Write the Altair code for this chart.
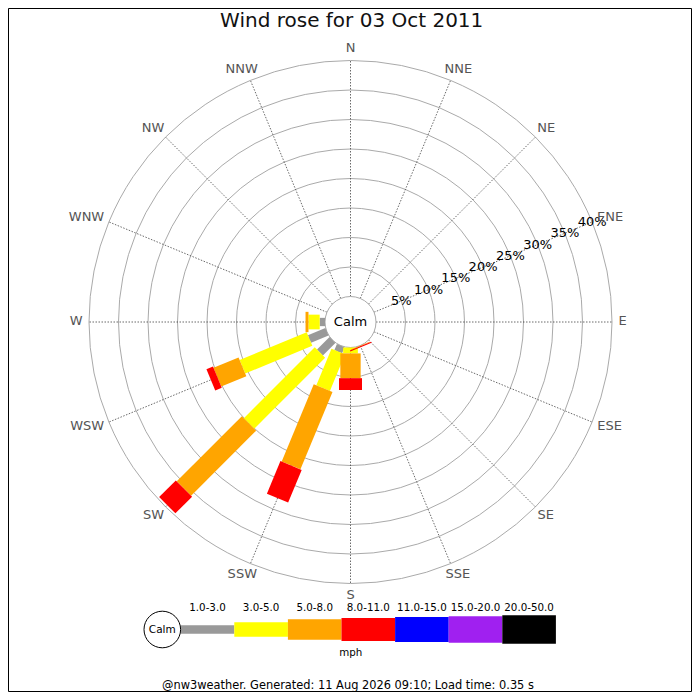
import altair as alt
import pandas as pd

# ---------------- data ----------------
TITLE = "Wind rose for 03 Oct 2011"
FOOTER = "@nw3weather. Generated: 11 Aug 2026 09:10; Load time: 0.35 s"
UNIT = "mph"
CALM_LABEL = "Calm"
DIRECTIONS = ["N", "NNE", "NE", "ENE", "E", "ESE", "SE", "SSE",
              "S", "SSW", "SW", "WSW", "W", "WNW", "NW", "NNW"]
SPEED_BINS = ["1.0-3.0", "3.0-5.0", "5.0-8.0", "8.0-11.0",
              "11.0-15.0", "15.0-20.0", "20.0-50.0"]
#            N  NNE NE ENE E ESE SE SSE   S    SSW   SW    WSW   W    WNW NW NNW
PCT_1_3   = [0, 0, 0, 0, 0, 0, 0, 0.0, 0.0, 1.1, 3.0, 3.2, 0.9, 0, 0, 0]
PCT_3_5   = [0, 0, 0, 0, 0, 0, 0, 0.0, 1.0, 6.7, 17.0, 12.3, 1.9, 0, 0, 0]
PCT_5_8   = [0, 0, 0, 0, 0, 0, 0, 0.1, 4.2, 14.2, 15.6, 4.6, 0.5, 0, 0, 0]
PCT_8_11  = [0, 0, 0, 0, 0, 0, 0, 0.2, 2.0, 6.0, 4.0, 1.2, 0.0, 0, 0, 0]
PCT_11_15 = [0, 0, 0, 0, 0, 0, 0, 0, 0, 0, 0, 0, 0, 0, 0, 0]
PCT_15_20 = [0, 0, 0, 0, 0, 0, 0, 0, 0, 0, 0, 0, 0, 0, 0, 0]
PCT_20_50 = [0, 0, 0, 0, 0, 0, 0, 0, 0, 0, 0, 0, 0, 0, 0, 0]
RING_PCTS = [5, 10, 15, 20, 25, 30, 35, 40]

# ---------------- styles ----------------
BIN_COLORS = ["#999999", "#ffff00", "#ffa500", "#ff0000", "#0000ff", "#a020f0", "#000000"]
BIN_WIDTHS = [8.3, 14.7, 20.3, 23, 25, 26.7, 28.3]
FONT = "DejaVu Sans"
R0 = 25.5      # radius of calm circle (px)
K = 5.9        # px per percent
RMAX = 40
LABEL_R = 268
LEG_X0, LEG_SEG, LEG_Y = -169.8, 53.6, -307.5

W, H = 684, 684
xs = alt.Scale(domain=[-342.5, 341.5], nice=False, zero=False)
ys = alt.Scale(domain=[-370, 314], nice=False, zero=False)

def X(f):
    return alt.X(f, type="quantitative", scale=xs, axis=None)

def Y(f):
    return alt.Y(f, type="quantitative", scale=ys, axis=None)

color_enc = alt.Color("bin:N", scale=alt.Scale(domain=SPEED_BINS, range=BIN_COLORS), legend=None)
width_enc = alt.StrokeWidth("sw:Q", scale=None, legend=None)

# rings
rings_df = pd.DataFrame({"pct": RING_PCTS})
rings = alt.Chart(rings_df).transform_calculate(
    r=f"{R0}+{K}*datum.pct", s="4*datum.r*datum.r", cx="0", cy="0"
).mark_point(shape="circle", filled=False, color="#aaaaaa", strokeWidth=1, opacity=1).encode(
    x=X("cx"), y=Y("cy"), size=alt.Size("s:Q", scale=None)
)

# spokes
dir_df = pd.DataFrame({"d": DIRECTIONS, "i": list(range(len(DIRECTIONS)))})
spokes = alt.Chart(dir_df).transform_calculate(
    a="datum.i*PI/8",
    x1=f"{R0}*sin(datum.a)", y1=f"{R0}*cos(datum.a)",
    x2=f"({R0}+{K}*{RMAX})*sin(datum.a)", y2=f"({R0}+{K}*{RMAX})*cos(datum.a)",
).mark_rule(color="#444444", strokeWidth=0.8, strokeDash=[1.5, 1.5]).encode(
    x=X("x1"), y=Y("y1"), x2="x2:Q", y2="y2:Q"
)

# calm circle
calm_df = pd.DataFrame({"t": [CALM_LABEL]})
calm_circle = alt.Chart(calm_df).transform_calculate(
    cx="0", cy="0", s=f"4*{R0}*{R0}"
).mark_point(shape="circle", filled=True, fill="white", stroke="#aaaaaa",
             strokeWidth=1, opacity=1).encode(
    x=X("cx"), y=Y("cy"), size=alt.Size("s:Q", scale=None)
)
calm_text = alt.Chart(calm_df).transform_calculate(cx="0", cy="0").mark_text(
    font=FONT, fontSize=13, color="black", align="center", baseline="middle"
).encode(x=X("cx"), y=Y("cy"), text="t:N")

# bars
series = [PCT_1_3, PCT_3_5, PCT_5_8, PCT_8_11, PCT_11_15, PCT_15_20, PCT_20_50]
rows = []
for bi, (b, vals) in enumerate(zip(SPEED_BINS, series)):
    for di, d in enumerate(DIRECTIONS):
        rows.append({"dir": d, "di": di, "bin": b, "bi": bi, "pct": vals[di],
                     "sw": BIN_WIDTHS[bi]})
bars_df = pd.DataFrame(rows)
bars = alt.Chart(bars_df).transform_window(
    cum="sum(pct)", groupby=["dir"], sort=[alt.SortField("bi", order="ascending")]
).transform_filter("datum.pct > 0").transform_calculate(
    a="datum.di*PI/8",
    ra=f"{R0}+{K}*(datum.cum-datum.pct)", rb=f"{R0}+{K}*datum.cum",
    x1="datum.ra*sin(datum.a)", y1="datum.ra*cos(datum.a)",
    x2="datum.rb*sin(datum.a)", y2="datum.rb*cos(datum.a)",
).mark_rule(strokeCap="butt").encode(
    x=X("x1"), y=Y("y1"), x2="x2:Q", y2="y2:Q", color=color_enc, strokeWidth=width_enc
)

# percent labels along ENE
pct_labels = alt.Chart(rings_df).transform_calculate(
    r=f"{R0}+{K}*datum.pct", a="3*PI/8",
    lx="datum.r*sin(datum.a)", ly="datum.r*cos(datum.a)",
    t="datum.pct + '%'"
).mark_text(font=FONT, fontSize=13, color="black", align="center", baseline="middle").encode(
    x=X("lx"), y=Y("ly"), text="t:N"
)

# direction labels
dir_labels = alt.Chart(dir_df).transform_calculate(
    a="datum.i*PI/8",
    hw="0.5*(12.9*(length(split(datum.d,'W'))-1) + 9.7*(length(split(datum.d,'N'))-1)"
       " + 8.2*(length(split(datum.d,'E'))-1) + 8.3*(length(split(datum.d,'S'))-1))",
    lx=f"({LABEL_R}+datum.hw)*sin(datum.a)",
    ly=f"({LABEL_R}+5.5)*cos(datum.a)+0.8",
).mark_text(font=FONT, fontSize=13, color="#555555", align="center", baseline="middle").encode(
    x=X("lx"), y=Y("ly"), text="d:N"
)

# legend
leg_df = pd.DataFrame({"bin": SPEED_BINS, "bi": list(range(len(SPEED_BINS))),
                       "sw": BIN_WIDTHS})
leg_base = alt.Chart(leg_df).transform_calculate(
    x1=f"{LEG_X0}+datum.bi*{LEG_SEG}", x2=f"{LEG_X0}+(datum.bi+1)*{LEG_SEG}",
    xm=f"{LEG_X0}+(datum.bi+0.5)*{LEG_SEG}", y=f"{LEG_Y}", ylab=f"{LEG_Y}+18.8"
)
leg_bars = leg_base.mark_rule(strokeCap="butt").encode(
    x=X("x1"), x2="x2:Q", y=Y("y"), y2="y:Q", color=color_enc, strokeWidth=width_enc
)
leg_text = leg_base.mark_text(font=FONT, fontSize=10.3, color="black",
                              align="center", baseline="alphabetic").encode(
    x=X("xm"), y=Y("ylab"), text="bin:N"
)
leg_calm = alt.Chart(calm_df).transform_calculate(
    cx=f"{LEG_X0}-18.4", cy=f"{LEG_Y}", s="4*18.3*18.3"
).mark_point(shape="circle", filled=True, fill="white", stroke="black",
             strokeWidth=1, opacity=1).encode(
    x=X("cx"), y=Y("cy"), size=alt.Size("s:Q", scale=None)
)
leg_calm_text = alt.Chart(calm_df).transform_calculate(
    cx=f"{LEG_X0}-18.4", cy=f"{LEG_Y}"
).mark_text(font=FONT, fontSize=10.5, color="black", align="center", baseline="middle").encode(
    x=X("cx"), y=Y("cy"), text="t:N"
)
unit_df = pd.DataFrame({"t": [UNIT]})
leg_unit = alt.Chart(unit_df).transform_calculate(cx="0.2", cy=f"{LEG_Y}-26.2").mark_text(
    font=FONT, fontSize=10.3, color="black", align="center", baseline="alphabetic"
).encode(x=X("cx"), y=Y("cy"), text="t:N")

# title, footer, frame
title = alt.Chart(pd.DataFrame({"t": [TITLE]})).mark_text(
    font=FONT, fontSize=20, color="#111111", align="center", baseline="alphabetic"
).encode(x=alt.value(343.7), y=alt.value(19), text="t:N")
footer = alt.Chart(pd.DataFrame({"t": [FOOTER]})).mark_text(
    font=FONT, fontSize=11.4, color="black", align="center", baseline="alphabetic"
).encode(x=alt.value(340), y=alt.value(680.5), text="t:N")
frame = alt.Chart(pd.DataFrame({"t": [0]})).mark_rect(
    filled=False, stroke="black", strokeWidth=1, fill=None
).encode(x=alt.value(0.5), x2=alt.value(683.5), y=alt.value(0.5), y2=alt.value(683.5))

chart = alt.layer(
    rings, spokes, calm_circle, calm_text, bars, pct_labels, dir_labels,
    leg_bars, leg_text, leg_calm, leg_calm_text, leg_unit, title, footer, frame
).properties(
    width=W, height=H, padding=0, autosize=alt.AutoSizeParams(type="none"),
    background="white"
).configure_view(stroke=None)

chart.save("out.html", embed_options={"renderer": "svg", "actions": False})
